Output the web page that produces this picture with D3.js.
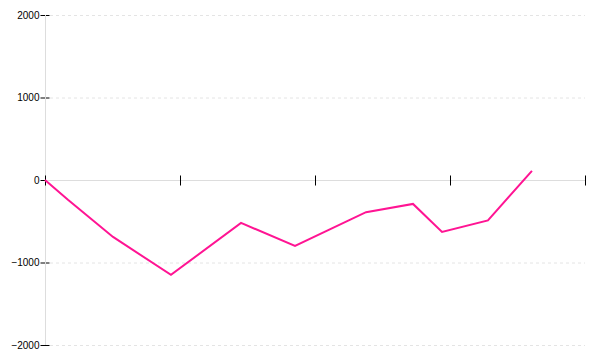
<!DOCTYPE html>
<html>
<head>
<meta charset="utf-8">
<script src="https://cdn.jsdelivr.net/npm/d3@7"></script>
<style>
body { margin: 0; background: #fff; }
svg { display: block; }
</style>
</head>
<body>
<div id="chart"></div>
<script>
// data
var xValues = [0, 0.17, 0.504, 0.933, 1.452, 1.852, 2.378, 2.726, 2.941, 3.281, 3.607];
var yValues = [0, -240, -690, -1150, -520, -800, -390, -290, -630, -490, 110];
var yTicks = [-2000, -1000, 0, 1000, 2000];
var xTicks = [0, 1, 2, 3, 4];

var width = 600,
	height = 360,
	margin = {top: 15, right: 15, bottom: 15, left: 45};

var svg = d3.select("#chart").append("svg")
	.attr("width", width)
	.attr("height", height);

var x = d3.scaleLinear().domain([0, 4]).range([margin.left, width - margin.right]);
var y = d3.scaleLinear().domain([-2000, 2000]).range([height - margin.bottom, margin.top]);

// dashed grid
svg.append("g").selectAll("line")
	.data(yTicks.filter(function(d) { return d != 0; }))
	.enter().append("line")
		.attr("x1", margin.left + 5)
		.attr("x2", width - margin.right)
		.attr("y1", function(d) { return y(d) + 0.5; })
		.attr("y2", function(d) { return y(d) + 0.5; })
		.attr("stroke", "#e4e4e4")
		.attr("stroke-dasharray", "3,3");

// y axis
var yAxis = svg.append("g")
	.attr("transform", "translate(" + (margin.left + 0.5) + ",0)")
	.call(d3.axisLeft(y).tickValues(yTicks).tickSize(5).tickPadding(1).tickFormat(d3.format("d")));
yAxis.selectAll(".tick line").attr("x1", 4).attr("stroke", "#000");
yAxis.selectAll(".tick text")
	.attr("font-family", "Liberation Sans, Arial, sans-serif")
	.attr("font-size", "10px")
	.attr("fill", "#000")
	.text(function(d) { return d < 0 ? "\u2212" + Math.abs(d) : d; });
yAxis.select(".domain").attr("stroke", "#ddd").attr("d", "M0," + margin.top + "V" + (height - margin.bottom)).raise();

// x axis through zero, no labels
var xAxis = svg.append("g")
	.attr("transform", "translate(0," + (y(0) + 0.5) + ")")
	.call(d3.axisBottom(x).tickValues(xTicks).tickSize(5).tickFormat(""));
xAxis.selectAll(".tick line").attr("y1", -5).attr("stroke", "#000");
xAxis.select(".domain").attr("stroke", "#ddd").attr("d", "M" + margin.left + ",0H" + (width - margin.right)).lower();

// line
var line = d3.line()
	.x(function(d, i) { return x(xValues[i]); })
	.y(function(d) { return y(d); });

svg.append("path")
	.datum(yValues)
	.attr("fill", "none")
	.attr("stroke", "#ff1493")
	.attr("stroke-width", 2)
	.attr("d", line);
</script>
</body>
</html>
